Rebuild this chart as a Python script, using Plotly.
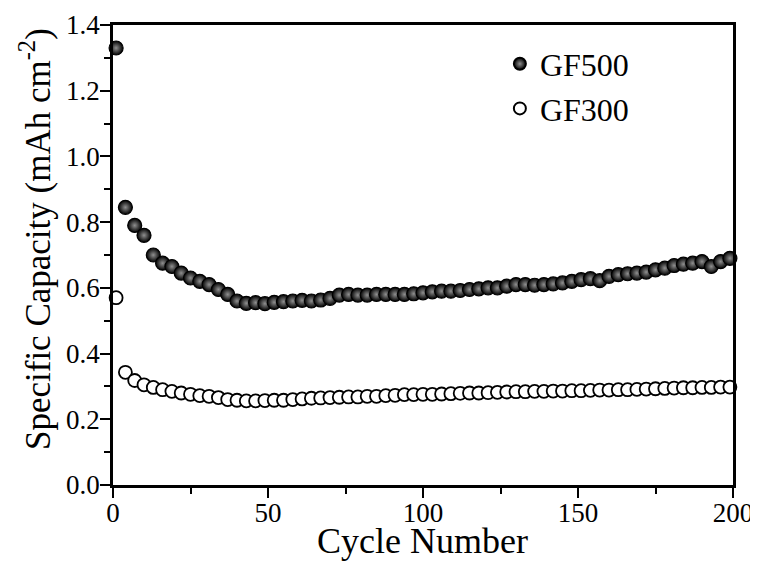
import plotly.graph_objects as go

cycles = list(range(1, 200, 3))

gf500 = [1.33, 0.845, 0.79, 0.76, 0.70, 0.675, 0.665, 0.645, 0.63, 0.62,
         0.61, 0.595, 0.58, 0.56, 0.553, 0.555, 0.552, 0.556, 0.558, 0.56,
         0.562, 0.56, 0.563, 0.568, 0.578, 0.58, 0.578, 0.578, 0.58, 0.58,
         0.58, 0.58, 0.582, 0.585, 0.588, 0.59, 0.59, 0.592, 0.595, 0.597,
         0.60, 0.60, 0.605, 0.61, 0.61, 0.608, 0.61, 0.612, 0.615, 0.62,
         0.625, 0.628, 0.622, 0.635, 0.64, 0.643, 0.645, 0.648, 0.655, 0.66,
         0.668, 0.672, 0.675, 0.68, 0.665, 0.68, 0.69]

gf300 = [0.57, 0.343, 0.318, 0.305, 0.297, 0.29, 0.285, 0.28, 0.276, 0.272,
         0.27, 0.266, 0.26, 0.258, 0.256, 0.256, 0.257, 0.258, 0.258, 0.26,
         0.262, 0.264, 0.265, 0.266, 0.267, 0.268, 0.268, 0.27, 0.27, 0.272,
         0.273, 0.275, 0.275, 0.276, 0.276, 0.277, 0.278, 0.279, 0.28, 0.28,
         0.281, 0.282, 0.283, 0.284, 0.284, 0.285, 0.285, 0.286, 0.286, 0.287,
         0.287, 0.288, 0.289, 0.289, 0.29, 0.29, 0.291, 0.292, 0.293, 0.294,
         0.295, 0.296, 0.296, 0.297, 0.297, 0.298, 0.298]

font = "Liberation Serif, Times New Roman, serif"

fig = go.Figure()
fig.add_trace(go.Scatter(
    x=cycles, y=gf500, mode="markers", name="GF500", cliponaxis=False,
    marker=dict(symbol="circle", size=14, color="#000000",
                gradient=dict(type="radial", color="#909090"),
                line=dict(color="#000000", width=1.2)),
))
fig.add_trace(go.Scatter(
    x=cycles, y=gf300, mode="markers", name="GF300", cliponaxis=False,
    marker=dict(symbol="circle", size=13, color="#ffffff",
                line=dict(color="#000000", width=1.8)),
))

fig.update_layout(
    width=758, height=561,
    margin=dict(l=105, r=33, t=17, b=84),
    paper_bgcolor="white", plot_bgcolor="white",
    font=dict(family=font, color="black"),
    showlegend=True,
    legend=dict(x=0.624, y=0.975, xanchor="left", yanchor="top",
                font=dict(family=font, size=32), bgcolor="rgba(0,0,0,0)",
                itemsizing="constant", tracegroupgap=1),
    annotations=[
        dict(text="Specific Capacity (mAh cm<sup>-2</sup>)", textangle=-90,
             xref="paper", yref="paper", x=-0.124, y=0.535,
             xanchor="center", yanchor="middle", showarrow=False,
             font=dict(family=font, size=35, color="black")),
        dict(text="Cycle Number",
             xref="paper", yref="paper", x=0.499, y=-0.122,
             xanchor="center", yanchor="middle", showarrow=False,
             font=dict(family=font, size=36, color="black")),
    ],
)
fig.update_xaxes(
    range=[0, 200], tickvals=[0, 50, 100, 150, 200], automargin=False,
    ticks="outside", ticklen=10, tickwidth=2, tickcolor="black",
    minor=dict(dtick=25, ticks="outside", ticklen=6, tickwidth=2, tickcolor="black"),
    showline=True, linewidth=2.5, linecolor="black", mirror=True,
    showgrid=False, zeroline=False,
    tickfont=dict(family=font, size=27), ticklabelstandoff=-8,
)
fig.update_yaxes(
    range=[0, 1.4], tickvals=[0, 0.2, 0.4, 0.6, 0.8, 1.0, 1.2, 1.4], automargin=False,
    ticktext=["0.0", "0.2", "0.4", "0.6", "0.8", "1.0", "1.2", "1.4"],
    ticks="outside", ticklen=10, tickwidth=2, tickcolor="black",
    minor=dict(dtick=0.1, ticks="outside", ticklen=6, tickwidth=2, tickcolor="black"),
    showline=True, linewidth=2.5, linecolor="black", mirror=True,
    showgrid=False, zeroline=False,
    tickfont=dict(family=font, size=27), ticklabelstandoff=-5,
)

fig.write_html("out.html")
